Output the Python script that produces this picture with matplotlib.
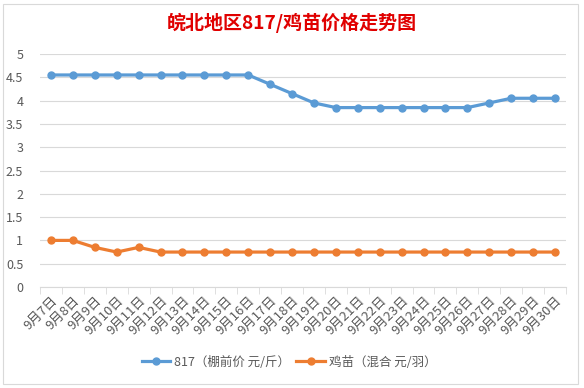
import matplotlib.pyplot as plt
from matplotlib.patches import Rectangle

plt.rcParams['font.family'] = ['Noto Sans CJK SC', 'DejaVu Sans']

days = [f"9月{d}日" for d in range(7, 31)]
price_817 = [4.55, 4.55, 4.55, 4.55, 4.55, 4.55, 4.55, 4.55, 4.55, 4.55,
             4.35, 4.15, 3.95, 3.85, 3.85, 3.85, 3.85, 3.85, 3.85, 3.85,
             3.95, 4.05, 4.05, 4.05]
price_chick = [1.0, 1.0, 0.85, 0.75, 0.85, 0.75, 0.75, 0.75, 0.75, 0.75,
               0.75, 0.75, 0.75, 0.75, 0.75, 0.75, 0.75, 0.75, 0.75, 0.75,
               0.75, 0.75, 0.75, 0.75]
yticks = [0, 0.5, 1, 1.5, 2, 2.5, 3, 3.5, 4, 4.5, 5]

blue = '#5B9BD5'
orange = '#ED7D31'
grey = '#595959'

fig = plt.figure(figsize=(5.84, 3.88), dpi=100)
fig.patches.append(Rectangle((3 / 584, 4 / 388), 575 / 584, 380 / 388,
                             transform=fig.transFigure, fill=False,
                             edgecolor='#D9D9D9', linewidth=0.8))

ax = fig.add_axes([40 / 584, 1 - 287 / 388, 526 / 584, 233 / 388])
x = list(range(len(days)))
ax.plot(x, price_817, color=blue, lw=2.3, marker='o', ms=5,
        label='817（棚前价 元/斤）')
ax.plot(x, price_chick, color=orange, lw=2.3, marker='o', ms=5,
        label='鸡苗（混合 元/羽）')

ax.set_xlim(-0.5, len(days) - 0.5)
ax.set_ylim(0, 5)
ax.set_yticks(yticks)
ax.set_yticklabels([f"{v:g}" for v in yticks], fontsize=9, color=grey)
ax.grid(axis='y', color='#D9D9D9', lw=0.8)
ax.set_axisbelow(True)
for s in ['top', 'right', 'left']:
    ax.spines[s].set_visible(False)
ax.spines['bottom'].set_color('#D9D9D9')
ax.tick_params(axis='y', length=0, pad=12)

ax.set_xticks(x)
ax.set_xticklabels(days, rotation=45, ha='right', rotation_mode='anchor',
                   fontsize=9.5, color=grey)
ax.set_xticks([i - 0.5 for i in range(len(days) + 1)], minor=True)
ax.tick_params(axis='x', which='major', length=0, pad=5)
ax.tick_params(axis='x', which='minor', length=5, color='#D9D9D9')

fig.text(0.5, 1 - 23 / 388, '皖北地区817/鸡苗价格走势图', ha='center',
         va='center', fontsize=13.7, fontweight='bold', color='#E00000')

fig.legend(loc='center', bbox_to_anchor=(289 / 584, 1 - 362 / 388), ncol=2,
           frameon=False, fontsize=9, labelcolor=grey, handlelength=2.3,
           handletextpad=0.3, columnspacing=0.5)

fig.savefig('out.png', dpi=100, facecolor='white')
